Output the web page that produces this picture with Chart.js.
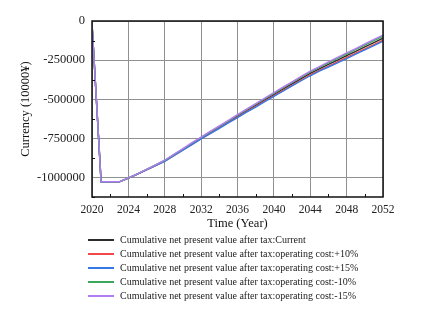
<!DOCTYPE html>
<html>
<head>
<meta charset="utf-8">
<script src="https://cdn.jsdelivr.net/npm/chart.js@4"></script>
<style>
  html, body { margin: 0; padding: 0; background: #fff; }
  #wrap { position: relative; width: 422px; height: 324px; }
  #legend { position: absolute; left: 88px; top: 232.5px; font: 10px "Liberation Serif", serif; color: #222; }
  .row { height: 14.2px; position: relative; white-space: nowrap; }
  .swatch { position: absolute; left: 0; top: 6px; width: 26px; height: 2px; }
  .txt { position: absolute; left: 32px; top: 0; line-height: 14.2px; }
</style>
</head>
<body>
<div id="wrap">
  <canvas id="npvChart" width="422" height="324"></canvas>
  <div id="legend"></div>
</div>
<script>
// ---- data (unit: 10000 yuan) ----
const years = [2020, 2021, 2022, 2023, 2024, 2025, 2026, 2027, 2028, 2029, 2030,
  2031, 2032, 2033, 2034, 2035, 2036, 2037, 2038, 2039, 2040, 2041, 2042,
  2043, 2044, 2045, 2046, 2047, 2048, 2049, 2050, 2051, 2052];

const npvCurrent = [-15000, -1028000, -1028000, -1028000, -1004000, -978000, -950000, -922000, -893000, -857000, -821000,
  -784000, -748000, -713000, -678000, -643000, -608000, -573000, -539000, -504000, -470000, -436000, -402000,
  -368000, -335000, -306000, -278000, -250000, -222000, -194000, -166000, -138000, -110000];
const npvPlus10 = [-15000, -1028000, -1028000, -1028000, -1004000, -979000, -951000, -924000, -895000, -860000, -824000,
  -788000, -752000, -718000, -683000, -648000, -614000, -579000, -546000, -511000, -478000, -444000, -411000,
  -377000, -344000, -316000, -288000, -261000, -233000, -206000, -178000, -151000, -123000];
const npvPlus15 = [-15000, -1028000, -1028000, -1028000, -1005000, -979000, -952000, -925000, -897000, -861000, -826000,
  -790000, -754000, -720000, -686000, -651000, -617000, -583000, -550000, -515000, -482000, -449000, -415000,
  -382000, -350000, -321000, -294000, -267000, -240000, -212000, -185000, -158000, -130000];
const npvMinus10 = [-15000, -1028000, -1028000, -1028000, -1004000, -977000, -949000, -920000, -891000, -854000, -818000,
  -780000, -744000, -709000, -673000, -638000, -602000, -567000, -532000, -497000, -462000, -428000, -393000,
  -359000, -326000, -296000, -268000, -239000, -211000, -182000, -154000, -125000, -97000];
const npvMinus15 = [-15000, -1028000, -1028000, -1028000, -1003000, -977000, -948000, -919000, -890000, -853000, -816000,
  -778000, -742000, -706000, -670000, -635000, -599000, -563000, -528000, -493000, -458000, -423000, -389000,
  -354000, -320000, -291000, -262000, -233000, -204000, -176000, -147000, -118000, -90000];

const seriesNames = [
  "Cumulative net present value after tax:Current",
  "Cumulative net present value after tax:operating cost:+10%",
  "Cumulative net present value after tax:operating cost:+15%",
  "Cumulative net present value after tax:operating cost:-10%",
  "Cumulative net present value after tax:operating cost:-15%"
];
const seriesValues = [npvCurrent, npvPlus10, npvPlus15, npvMinus10, npvMinus15];
const seriesColors = ["#2d2d2d", "#f04848", "#3478e6", "#3ca65a", "#b27cf2"];

const FONT = "'Liberation Serif', 'Times New Roman', serif";

/* frame + inward minor ticks */
const framePlugin = {
  id: "frame",
  afterDraw(chart) {
    const { ctx, chartArea: a, scales } = chart;
    ctx.save();
    ctx.strokeStyle = "#111";
    ctx.lineWidth = 1;
    scales.x.ticks.forEach(t => {
      if (t.value % 4 === 0) return;
      const px = Math.round(scales.x.getPixelForValue(t.value)) + 0.5;
      ctx.beginPath();
      ctx.moveTo(px, a.bottom);
      ctx.lineTo(px, a.bottom - 3);
      ctx.stroke();
    });
    scales.y.ticks.forEach(t => {
      if (t.value % 250000 === 0) return;
      const py = Math.round(scales.y.getPixelForValue(t.value)) + 0.5;
      ctx.beginPath();
      ctx.moveTo(a.left, py);
      ctx.lineTo(a.left + 3, py);
      ctx.stroke();
    });
    ctx.lineWidth = 1.5;
    ctx.strokeRect(a.left, a.top, a.right - a.left, a.bottom - a.top);
    ctx.restore();
  }
};

// lower order = drawn on top, so the -15% line ends up uppermost
const datasets = seriesNames.map((name, i) => ({
  label: name,
  data: years.map((yr, j) => ({ x: yr, y: seriesValues[i][j] })),
  borderColor: seriesColors[i],
  backgroundColor: seriesColors[i],
  borderWidth: 1.4,
  pointRadius: 0,
  tension: 0,
  order: seriesNames.length - i
}));

const chart = new Chart(document.getElementById("npvChart"), {
  type: "line",
  data: { datasets },
  options: {
    responsive: false,
    animation: false,
    layout: { padding: { left: 0, top: 21, right: 39, bottom: 91 } },
    plugins: { legend: { display: false }, tooltip: { enabled: false } },
    scales: {
      x: {
        type: "linear",
        min: 2020,
        max: 2052,
        afterFit: s => { s.height = 36; },
        ticks: {
          stepSize: 2,
          autoSkip: false,
          maxRotation: 0,
          padding: 6,
          color: "#222",
          font: { family: FONT, size: 11.5 },
          callback: v => (v % 4 === 0 ? String(v) : "")
        },
        grid: {
          drawTicks: false,
          color: c => (c.tick && c.tick.value % 4 === 0 ? "#909090" : "rgba(0,0,0,0)")
        },
        border: { display: false },
        title: {
          display: true,
          text: "Time (Year)",
          color: "#111",
          font: { family: FONT, size: 12.5 },
          padding: { top: 0, bottom: 2 }
        }
      },
      y: {
        min: -1125000,
        max: 0,
        afterFit: s => { s.width = 92; },
        ticks: {
          stepSize: 125000,
          autoSkip: false,
          padding: 7,
          color: "#222",
          font: { family: FONT, size: 12.5 },
          callback: v => (v % 250000 === 0 ? String(v) : "")
        },
        grid: {
          drawTicks: false,
          color: c => (c.tick && c.tick.value % 250000 === 0 ? "#909090" : "rgba(0,0,0,0)")
        },
        border: { display: false },
        title: {
          display: true,
          text: "Currency (10000¥)",
          color: "#111",
          font: { family: FONT, size: 12.5 },
          padding: { top: 18, bottom: 0 }
        }
      }
    }
  },
  plugins: [framePlugin]
});

/* legend built from the chart's datasets */
const legendEl = document.getElementById("legend");
chart.data.datasets.forEach(ds => {
  legendEl.innerHTML += `
    <div class="row">
      <span class="swatch" style="background:${ds.borderColor}"></span>
      <span class="txt">${ds.label}</span>
    </div>`;
});
</script>
</body>
</html>
